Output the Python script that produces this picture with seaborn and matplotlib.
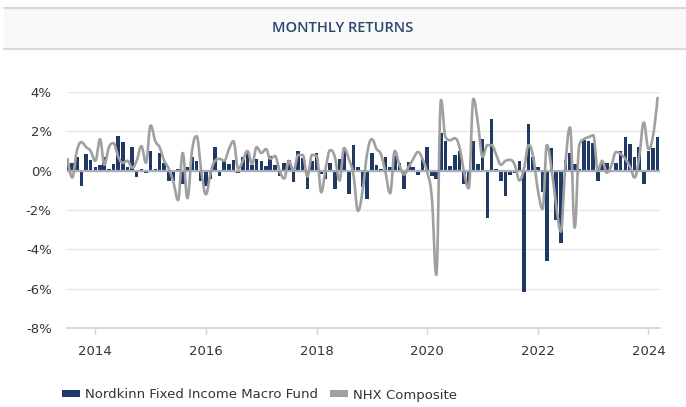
import numpy as np
import pandas as pd
import matplotlib
matplotlib.use("Agg")
import matplotlib.pyplot as plt
import matplotlib.dates as mdates
from matplotlib.patches import Rectangle, Patch
from matplotlib.lines import Line2D
import seaborn as sns

# ---------------- data ----------------
title = "MONTHLY RETURNS"
series_names = ["Nordkinn Fixed Income Macro Fund", "NHX Composite"]
start_month = "2013-07-01"

fund_returns = [
    0.4, 0.4, 0.7, -0.8, 0.85, 0.55, 0.2, 0.3, 0.7, 0.1, 0.35, 1.75,
    1.45, 0.2, 1.2, -0.3, 0.1, -0.1, 1.0, 0.1, 0.9, 0.4, -0.5, -0.5,
    0.1, -0.7, 0.2, 0.7, 0.5, -0.5, -0.8, -0.4, 1.2, -0.25, 0.5, 0.35,
    0.55, -0.1, 0.7, 1.0, 0.3, 0.6, 0.5, 0.25, 0.75, 0.3, -0.25, 0.4,
    0.55, -0.6, 1.0, 0.65, -0.95, 0.5, 0.9, -0.15, -0.4, 0.4, -0.95, 0.6,
    1.05, -1.2, 1.3, 0.2, -0.85, -1.45, 0.9, 0.3, 0.1, 0.7, 0.2, 0.75,
    0.4, -0.95, 0.45, 0.2, -0.2, 0.6, 1.2, -0.25, -0.4, 1.9, 1.5, 0.25,
    0.8, 1.0, -0.7, -0.9, 1.5, 0.35, 1.6, -2.4, 2.65, 0.1, -0.5, -1.3,
    -0.2, -0.1, 0.5, -6.15, 2.35, 0.7, 0.2, -1.1, -4.6, 1.15, -2.5, -3.7,
    0.55, 0.9, 0.35, 0.1, 1.55, 1.5, 1.4, -0.5, 0.4, 0.4, 0.05, 0.4,
    1.0, 1.7, 1.35, 0.7, 1.2, -0.7, 1.0, 1.15, 1.7,
]

nhx_returns = [
    0.6, -0.35, 1.0, 1.45, 1.2, 1.0, 0.5, 1.6, 0.3, 1.2, 1.4, 0.7,
    0.4, 0.5, 0.15, 0.5, 1.25, 0.4, 2.3, 1.5, 1.2, 0.5, 0.1, -0.6,
    -1.5, 0.9, -1.4, 1.0, 1.75, 0.0, -1.2, -0.1, 0.5, 0.6, 0.5, 1.1,
    1.5, 0.1, 0.5, 1.0, 0.35, 1.2, 0.9, 1.1, 0.6, 0.75, 0.0, -0.4,
    0.5, 0.0, 0.8, 0.8, -0.3, 0.8, 0.75, -1.1, 0.1, 1.05, 0.7, -0.5,
    1.15, 0.6, -0.2, -2.05, -1.0, 0.9, 1.6, 1.1, 0.85, -0.1, -1.15, 1.0,
    0.3, -0.2, 0.2, 0.6, 0.95, 0.6, -0.1, -1.4, -5.3, 3.6, 1.7, 1.55,
    1.65, 1.2, -0.1, -0.9, 3.65, 2.4, 0.7, 1.3, 1.3, 0.8, 0.3, 0.5,
    0.55, 0.3, -0.5, 0.1, 1.3, 0.7, -1.0, -1.95, 1.3, 0.1, -1.7, -3.1,
    0.3, 2.2, -2.9, 1.3, 1.6, 1.7, 1.8, 0.0, 0.5, -0.1, 0.25, 0.95,
    0.85, 0.6, 0.2, -0.35, 0.7, 2.45, 1.1, 1.8, 3.7,
]

year_ticks = [2014, 2016, 2018, 2020, 2022, 2024]
y_ticks = [-8, -6, -4, -2, 0, 2, 4]

# ---------------- style ----------------
NAVY = "#1f3864"
GRAY = "#a0a0a0"
TITLE_COLOR = "#2b466f"
TEXT_COLOR = "#333333"

sns.set_theme(style="white")
plt.rcParams["font.family"] = ["DejaVu Sans"]

W, H = 686, 407
fig = plt.figure(figsize=(W / 100, H / 100), dpi=100)

# title band
fig.patches.append(Rectangle((4 / W, 1 - 48 / H), 1 - 4 / W, 40 / H,
                             transform=fig.transFigure, facecolor="#f9f9f9",
                             edgecolor="none", zorder=0))
for yy in (7.5, 48.5):
    fig.add_artist(Line2D([4 / W, 1], [1 - yy / H, 1 - yy / H],
                          transform=fig.transFigure, color="#d9d9d9", lw=1.6))
fig.text(0.5, 1 - 28.5 / H, title, ha="center", va="center", fontsize=10.5,
         color=TITLE_COLOR, fontweight="semibold", family=["Open Sans", "DejaVu Sans"])

ax = fig.add_axes([67 / W, 1 - 328 / H, (660 - 67) / W, (328 - 92) / H])

dates = pd.date_range(start_month, periods=len(fund_returns), freq="MS")
xnum = mdates.date2num(dates)
df = pd.DataFrame({"x": xnum, "fund": fund_returns})

sns.barplot(data=df, x="x", y="fund", native_scale=True, orient="x",
            color=NAVY, saturation=1, width=0.85, errorbar=None,
            linewidth=0, edgecolor="none", ax=ax, zorder=2)


# Highcharts-like spline through the monthly NHX points
def spline(xs, ys, smoothing=1.5, n=20):
    m = len(xs)
    lc = [None] * m
    rc = [None] * m
    for i in range(m):
        px, py = xs[i], ys[i]
        if i == 0 or i == m - 1:
            lc[i] = (px, py)
            rc[i] = (px, py)
            continue
        lx, ly = xs[i - 1], ys[i - 1]
        nx, ny = xs[i + 1], ys[i + 1]
        d = smoothing + 1
        lcx = (smoothing * px + lx) / d
        lcy = (smoothing * py + ly) / d
        rcx = (smoothing * px + nx) / d
        rcy = (smoothing * py + ny) / d
        if rcx != lcx:
            corr = ((rcy - lcy) * (rcx - px)) / (rcx - lcx) + py - rcy
            lcy += corr
            rcy += corr
        if lcy > ly and lcy > py:
            lcy = max(ly, py); rcy = 2 * py - lcy
        elif lcy < ly and lcy < py:
            lcy = min(ly, py); rcy = 2 * py - lcy
        if rcy > ny and rcy > py:
            rcy = max(ny, py); lcy = 2 * py - rcy
        elif rcy < ny and rcy < py:
            rcy = min(ny, py); lcy = 2 * py - rcy
        lc[i] = (lcx, lcy)
        rc[i] = (rcx, rcy)
    X = [xs[0]]
    Y = [ys[0]]
    t = np.linspace(0, 1, n + 1)[1:]
    for i in range(1, m):
        p0 = (xs[i - 1], ys[i - 1]); p1 = rc[i - 1]; p2 = lc[i]; p3 = (xs[i], ys[i])
        bx = (1 - t) ** 3 * p0[0] + 3 * (1 - t) ** 2 * t * p1[0] + 3 * (1 - t) * t ** 2 * p2[0] + t ** 3 * p3[0]
        by = (1 - t) ** 3 * p0[1] + 3 * (1 - t) ** 2 * t * p1[1] + 3 * (1 - t) * t ** 2 * p2[1] + t ** 3 * p3[1]
        X.extend(bx); Y.extend(by)
    return np.array(X), np.array(Y)


sx, sy = spline(list(xnum), nhx_returns)
sns.lineplot(x=sx, y=sy, sort=False, estimator=None, color=GRAY, lw=1.9,
             ax=ax, zorder=4)

ax.axhline(0, color="#a7afbe", lw=1.6, zorder=3)

# axes styling
ax.set_ylim(-8, 4)
ax.set_xlim(xnum[0] - 3, xnum[-1] + 16)
ax.set_yticks(y_ticks)
ax.set_yticklabels([f"{v}%" for v in y_ticks])
xt = [mdates.date2num(pd.Timestamp(f"{y}-01-01")) for y in year_ticks]
ax.set_xticks(xt)
ax.set_xticklabels([str(y) for y in year_ticks])
ax.set_xlabel("")
ax.set_ylabel("")
ax.yaxis.grid(True, color="#e6e6e6", lw=1)
ax.xaxis.grid(False)
ax.set_axisbelow(True)
for s in ("top", "right", "left"):
    ax.spines[s].set_visible(False)
ax.spines["bottom"].set_color("#d3d3d3")
ax.spines["bottom"].set_linewidth(1.2)
ax.tick_params(axis="y", length=0, pad=11, labelsize=9.5, labelcolor=TEXT_COLOR)
ax.tick_params(axis="x", length=4, width=1, color="#d3d3d3", direction="out",
               pad=8, labelsize=9.5, labelcolor=TEXT_COLOR, bottom=True)
ax.patch.set_alpha(0)

handles = [Patch(facecolor=NAVY, edgecolor="none"),
           Patch(facecolor=GRAY, edgecolor="none")]
fig.legend(handles, series_names, loc="center left",
           bbox_to_anchor=(62 / W, 1 - 395 / H), ncol=2, frameon=False,
           fontsize=9.5, handlelength=1.4, handleheight=0.4,
           handletextpad=0.35, columnspacing=0.9, labelcolor=TEXT_COLOR,
           borderaxespad=0, borderpad=0)

fig.savefig("out.png", dpi=100)
